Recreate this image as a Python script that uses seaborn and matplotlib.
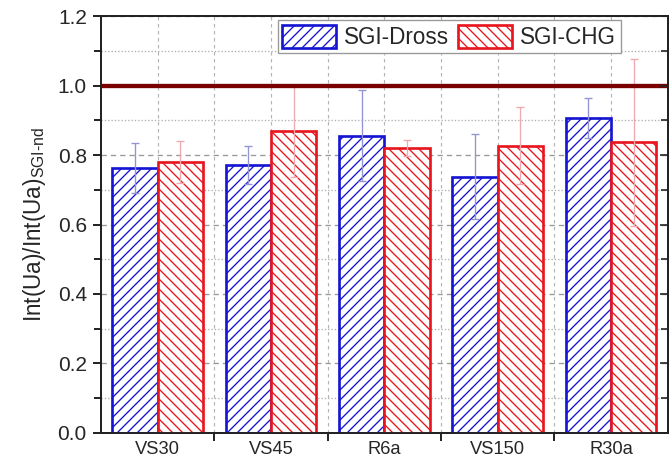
"""
Relative Ua intensity of SGI-Dross and SGI-CHG samples, normalised to SGI-nd.
"""

import pandas as pd
import matplotlib
matplotlib.use("Agg")
import matplotlib.pyplot as plt
import seaborn as sns
from matplotlib.patches import Patch
from matplotlib.ticker import MultipleLocator

# Samples and series
SAMPLES = ["VS30", "VS45", "R6a", "VS150", "R30a"]
SERIES = ["SGI-Dross", "SGI-CHG"]

# Values
DROSS = [0.763, 0.771, 0.855, 0.738, 0.907]
DROSS_ERR = [0.073, 0.055, 0.131, 0.122, 0.057]
CHG = [0.780, 0.869, 0.820, 0.827, 0.837]
CHG_ERR = [0.060, 0.133, 0.023, 0.111, 0.240]
REF_LEVEL = 1.0

EDGE_COLORS = ["#1414d2", "#e8141e"]
ERR_COLORS = ["#9494d4", "#eeaaae"]
HATCHES = ["////", "\\\\\\\\"]

sns.set_style("white")
plt.rcParams['font.family'] = ['Liberation Sans', 'DejaVu Sans']
plt.rcParams['hatch.linewidth'] = 0.8
plt.rcParams['mathtext.default'] = 'regular'

df = pd.DataFrame({
    'sample': SAMPLES * 2,
    'series': [SERIES[0]] * len(SAMPLES) + [SERIES[1]] * len(SAMPLES),
    'value': DROSS + CHG,
})
errors = [DROSS_ERR, CHG_ERR]

fig = plt.figure(figsize=(669 / 120, 462 / 120), dpi=120)
ax = fig.add_axes([0.151, 0.063, 0.847, 0.902])

sns.barplot(data=df, x='sample', y='value', hue='series', order=SAMPLES,
            hue_order=SERIES, palette=EDGE_COLORS, errorbar=None,
            width=0.8, ax=ax, zorder=3)

# Hatched open bars + error bars
bar_containers = list(ax.containers)
for i, container in enumerate(bar_containers):
    for j, bar in enumerate(container.patches):
        bar.set_facecolor('white')
        bar.set_edgecolor(EDGE_COLORS[i])
        bar.set_hatch(HATCHES[i])
        bar.set_linewidth(1.6)
        xc = bar.get_x() + bar.get_width() / 2
        ax.errorbar(xc, bar.get_height(), yerr=errors[i][j], fmt='none',
                    ecolor=ERR_COLORS[i], elinewidth=0.8, capsize=2.6,
                    capthick=0.8, zorder=4)

ax.axhline(REF_LEVEL, color='#7a0000', lw=2.6, zorder=5)

ax.set_xlim(-0.5, len(SAMPLES) - 0.5)
ax.set_ylim(0, 1.2)
ax.yaxis.set_major_locator(MultipleLocator(0.2))
ax.yaxis.set_minor_locator(MultipleLocator(0.1))
ax.yaxis.set_major_formatter(plt.FormatStrFormatter('%.1f'))
ax.set_xticks(range(len(SAMPLES)))
ax.set_xticklabels(SAMPLES)
ax.set_xticks([k + 0.5 for k in range(len(SAMPLES) - 1)], minor=True)

ax.tick_params(axis='x', which='major', length=0, labelsize=11, pad=5)
ax.tick_params(axis='x', which='minor', length=5, width=1.2, direction='out', bottom=True)
ax.tick_params(axis='y', which='both', direction='out', left=True, width=1.2, labelsize=12.5)
ax.tick_params(axis='y', which='major', length=5)
ax.tick_params(axis='y', which='minor', length=4)

# Right side: inward ticks, no labels
ax2 = ax.twinx()
ax2.set_ylim(ax.get_ylim())
ax2.yaxis.set_major_locator(MultipleLocator(0.2))
ax2.yaxis.set_minor_locator(MultipleLocator(0.1))
ax2.tick_params(axis='y', which='both', direction='in', right=True,
                labelright=False, width=1.0, length=5)
ax2.tick_params(axis='y', which='minor', length=4)

# Grid
ax.set_axisbelow(True)
ax.grid(axis='y', which='major', color='#9a9a9a', ls=(0, (4, 3)), lw=0.8)
ax.grid(axis='y', which='minor', color='#b0b0b0', ls=(0, (1, 1.5)), lw=0.8)
ax.grid(axis='x', which='both', color='#b4b4b4', ls=(0, (3, 3)), lw=0.7)

for a in (ax, ax2):
    for sp in a.spines.values():
        sp.set_color('#222222')
        sp.set_linewidth(1.1)

ax.set_xlabel('')
ax.set_ylabel('Int(Ua)/Int(Ua)$_{SGI\u2010nd}$', fontsize=13.5, labelpad=6)

ax.get_legend().remove()
handles = [Patch(facecolor='white', edgecolor=EDGE_COLORS[k], hatch=HATCHES[k],
                 lw=1.6, label=SERIES[k]) for k in range(2)]
leg = ax.legend(handles=handles, ncol=2, loc='upper left',
                bbox_to_anchor=(0.312, 0.99), borderaxespad=0, fontsize=13.5,
                handlelength=2.4, handleheight=1.2, handletextpad=0.35,
                columnspacing=0.4, borderpad=0.2, fancybox=False,
                framealpha=1, edgecolor='#999999')
leg.set_zorder(6)
leg.get_frame().set_linewidth(0.8)

fig.savefig('out.png', dpi=120)
plt.close(fig)
